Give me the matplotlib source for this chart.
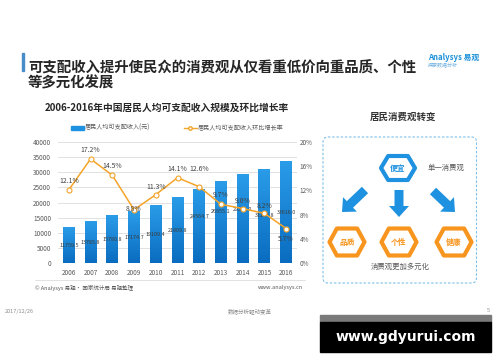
import matplotlib
matplotlib.use('Agg')
import matplotlib.pyplot as plt
import numpy as np
from matplotlib.patches import Polygon, FancyBboxPatch, FancyArrow, Rectangle
from matplotlib.lines import Line2D
from matplotlib.colors import LinearSegmentedColormap

plt.rcParams['font.family'] = ['Noto Sans CJK SC', 'DejaVu Sans']

# ---------------- data ----------------
years = ['2006', '2007', '2008', '2009', '2010', '2011', '2012', '2013', '2014', '2015', '2016']
income = [11759.5, 13785.8, 15780.8, 17174.7, 19109.4, 21809.8, 24564.7, 26955.1, 29381.0, 31194.8, 33616.0]
growth = [12.1, 17.2, 14.5, 8.8, 11.3, 14.1, 12.6, 9.7, 9.0, 8.2, 5.7]
left_ticks = [0, 5000, 10000, 15000, 20000, 25000, 30000, 35000, 40000]
right_ticks = [0, 4, 8, 12, 16, 20]

title_l1 = '可支配收入提升使民众的消费观从仅看重低价向重品质、个性'
title_l2 = '等多元化发展'
chart_title = '2006-2016年中国居民人均可支配收入规模及环比增长率'
legend_labels = ['居民人均可支配收入(元)', '居民人均可支配收入环比增长率']
diagram_title = '居民消费观转变'
top_node = '便宜'
bottom_nodes = ['品质', '个性', '健康']

BLUE = '#1e92e0'
ORANGE = '#f5a42a'
HEX_ORANGE = '#f7951e'
GRAY = '#595959'

W, H = 500, 362
fig = plt.figure(figsize=(W / 100, H / 100), dpi=100)
fig.patch.set_facecolor('white')

def fx(px):
    return px / W

def fy(py):
    return 1 - py / H

# ---------------- chart ----------------
L, R, T, B = 58, 297, 142, 263
ax = fig.add_axes([fx(L), fy(B), fx(R) - fx(L), (B - T) / H])
x = np.arange(len(years))
bars = ax.bar(x, income, width=0.55, color=BLUE, zorder=2)
cmap = LinearSegmentedColormap.from_list('g', ['#0a6cc0', '#2a9ce8'])
grad = np.linspace(0, 1, 100).reshape(-1, 1)
for b in bars:
    x0, w, h = b.get_x(), b.get_width(), b.get_height()
    im = ax.imshow(grad, extent=[x0, x0 + w, 0, h], origin='lower', aspect='auto',
                   cmap=cmap, zorder=2.1)
    im.set_clip_path(b)

ax.set_xlim(-0.5, len(years) - 0.5)
ax.set_ylim(0, 40000)
ax.set_yticks(left_ticks)
ax.set_yticklabels([str(v) for v in left_ticks])
ax.set_xticks(x)
ax.set_xticklabels(years)
ax.tick_params(axis='both', length=0, labelsize=4.6, colors=GRAY)
ax.tick_params(axis='y', pad=5)
ax.tick_params(axis='x', pad=4)
ax.grid(axis='y', color='#dcdcdc', linewidth=0.6, zorder=0)
for s in ax.spines.values():
    s.set_visible(False)
ax.set_facecolor('none')

# bar value labels (centred in bars, a few lifted)
lift = [0, 0, 0, 0, 0, 0, 3200, 3600, 3100, 0, 0]
for i, v in enumerate(income):
    ax.text(i, v / 2 + lift[i], f'{v:.1f}', ha='center', va='center', fontsize=3.9,
            color='#3a3a3a', zorder=4)

ax2 = ax.twinx()
ax2.set_ylim(0, 20)
ax2.plot(x, growth, color=ORANGE, lw=1.1, marker='o', ms=3.6, mfc='white',
         mec=ORANGE, mew=0.8, zorder=5)
ax2.set_yticks(right_ticks)
ax2.set_yticklabels([f'{v}%' for v in right_ticks])
ax2.tick_params(axis='y', length=0, labelsize=4.6, colors=GRAY, pad=2)
for s in ax2.spines.values():
    s.set_visible(False)
pct_dy = [9, 9, 9, 1, 8, 9, 18, 9, 8, 7, -10]
for i, g in enumerate(growth):
    ax2.annotate(f'{g}%', (i, g), xytext=(0, pct_dy[i] * 0.72), textcoords='offset points',
                 ha='center', va='center', fontsize=4.9, color='#404040', zorder=6)

handles = [Rectangle((0, 0), 1, 1, color=BLUE),
           Line2D([0], [0], color=ORANGE, lw=1.0, marker='o', ms=2.5, mfc='white', mec=ORANGE)]
ax.legend(handles, legend_labels, loc='center', bbox_to_anchor=(0.5, 1 + 14 / (B - T)),
          ncol=2, frameon=False, fontsize=4.4, labelcolor=GRAY, handlelength=2.0,
          handleheight=0.5, handletextpad=0.2, columnspacing=5.6)

# ---------------- overlay ----------------
ov = fig.add_axes([0, 0, 1, 1], zorder=10)
ov.set_xlim(0, W)
ov.set_ylim(H, 0)
ov.axis('off')
ov.patch.set_alpha(0)

ov.add_patch(Rectangle((22, 53), 1.6, 18, color='#4a8cc9'))
ov.text(28, 68, title_l1, fontsize=10.4, fontweight='bold', color='#262626', va='center', ha='left')
ov.text(28, 83, title_l2, fontsize=10.4, fontweight='bold', color='#262626', va='center', ha='left')

ov.text(428, 58, 'Analysys 易观', fontsize=5.6, color='#1a8fd8', va='center', ha='left', fontweight='bold')
ov.text(428, 66, '探索数据分析', fontsize=3.6, color='#6fb0e0', va='center', ha='left', style='italic')

ov.text(167, 108, chart_title, fontsize=7, fontweight='bold', color='#262626', ha='center', va='center')

# footer of chart
ov.plot([35, 305], [280, 280], color='#dddddd', lw=0.6)
ov.text(35, 288, '© Analysys 易观• 国家统计局 易观整理', fontsize=4, color=GRAY, ha='left', va='center')
ov.text(303, 288, 'www.analysys.cn', fontsize=4, color=GRAY, ha='right', va='center')
ov.text(5, 311, '2017/12/26', fontsize=4, color='#8c8c8c', ha='left', va='center')
ov.text(250, 311, '数据分析驱动变革', fontsize=4, color='#8c8c8c', ha='center', va='center')
ov.text(488, 311, '5', fontsize=4, color='#8c8c8c', ha='center', va='center')

# ---------------- diagram ----------------
ov.text(403, 117, diagram_title, fontsize=6.8, fontweight='bold', color='#333333', ha='center', va='center')
ov.add_patch(FancyBboxPatch((323, 137), 153.5, 146, boxstyle='round,pad=0,rounding_size=5',
                            fill=False, ec='#7cc0ea', lw=0.8, ls=(0, (2.2, 1.6))))

def hexagon(cx, cy, w, h, color, label):
    pts = [(cx - w / 2, cy), (cx - 0.29 * w, cy - h / 2), (cx + 0.29 * w, cy - h / 2),
           (cx + w / 2, cy), (cx + 0.29 * w, cy + h / 2), (cx - 0.29 * w, cy + h / 2)]
    ov.add_patch(Polygon(pts, closed=True, fc='white', ec=color, lw=3.0, joinstyle='round'))
    ov.text(cx, cy, label, fontsize=5.6, fontweight='bold', color=color, ha='center', va='center')

hexagon(398, 168, 34, 24, BLUE, top_node)
node_x = [347, 399, 454]
for nx, lab in zip(node_x, bottom_nodes):
    hexagon(nx, 242, 35, 27, HEX_ORANGE, lab)

ov.text(428, 168, '单一消费观', fontsize=5.3, color=GRAY, ha='left', va='center')
ov.text(400, 267, '消费观更加多元化', fontsize=5.3, color=GRAY, ha='center', va='center')

arrow_kw = dict(width=9, head_width=20, head_length=11, length_includes_head=True,
                color=BLUE, lw=0)
ov.add_patch(FancyArrow(399, 190, 0, 27, **arrow_kw))
ov.add_patch(FancyArrow(365, 190, -23, 22, **arrow_kw))
ov.add_patch(FancyArrow(433, 191, 22, 21, **arrow_kw))

# ---------------- watermark box ----------------
ov.add_patch(Rectangle((320, 315), 171, 7, color='#7a7a7a'))
ov.add_patch(Rectangle((320, 322), 171, 30, color='black'))
ov.text(405.5, 337, 'www.gdyurui.com', fontsize=10, fontweight='bold', color='white',
        ha='center', va='center', family='DejaVu Sans')

fig.savefig('out.png', dpi=100)
